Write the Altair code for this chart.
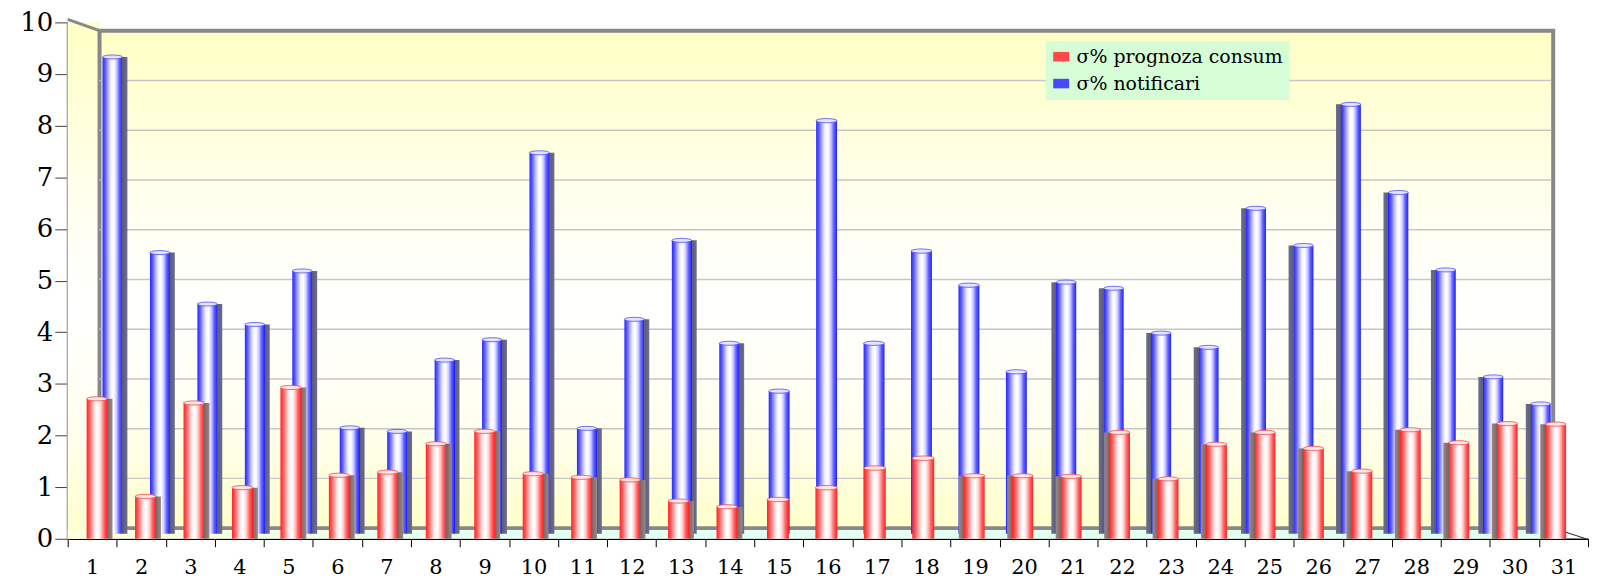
import altair as alt
import pandas as pd

# ---- data ----
days = [str(i) for i in range(1, 32)]
prognoza = [2.71, 0.82, 2.63, 0.99, 2.93, 1.23, 1.29, 1.84, 2.08, 1.26, 1.19, 1.14, 0.73, 0.62, 0.76, 0.99,
            1.37, 1.56, 1.22, 1.22, 1.21, 2.06, 1.16, 1.83, 2.06, 1.75, 1.31, 2.11, 1.86, 2.23, 2.22]
notificari = [9.36, 5.52, 4.51, 4.11, 5.16, 2.08, 2.01, 3.41, 3.81, 7.48, 2.07, 4.21, 5.76, 3.74, 2.80, 8.11,
              3.74, 5.55, 4.88, 3.18, 4.94, 4.82, 3.94, 3.66, 6.39, 5.66, 8.43, 6.70, 5.18, 3.08, 2.55]
series_names = ["σ% prognoza consum", "σ% notificari"]
y_ticks = list(range(0, 11))

df = pd.DataFrame({"day": days, "n": list(range(1, 32)), "prognoza": prognoza, "notificari": notificari})
one = pd.DataFrame({"a": [0]})

W, H = 1528, 519
FONT = "DejaVu Serif"
ELLIPSE = "M-1,0A1,0.2,0,1,0,1,0A1,0.2,0,1,0,-1,0Z"

# 3D frame geometry (view pixels)
WALL_L, WALL_R, WALL_T, WALL_B = 32, 1493, 8.3, 508.3


def grad(stops, vertical=False):
    return {"gradient": "linear", "x1": 0, "y1": 0,
            "x2": 0 if vertical else 1, "y2": 1 if vertical else 0,
            "stops": [{"offset": round(o, 4), "color": c} for o, c in stops]}


red_face = [(0, "#ff2424"), (0.14, "#ff5a5a"), (0.28, "#ffa8a8"), (0.42, "#fff0f0"), (0.56, "#ffffff"),
            (0.7, "#ffcccc"), (0.84, "#ff6868"), (1, "#ff2020")]
blue_face = [(0, "#2626ff"), (0.14, "#5e5eff"), (0.28, "#b0b0ff"), (0.42, "#f2f2ff"), (0.56, "#ffffff"),
             (0.7, "#ccccff"), (0.84, "#6464ff"), (1, "#2020ff")]


def bar_fill(face, side_dark, side_light, side):
    if side == "R":
        stops = [(o * 0.8, c) for o, c in face] + [(0.8, side_dark), (1, side_light)]
    elif side == "L":
        stops = [(0, side_light), (0.2, side_dark)] + [(0.2 + o * 0.8, c) for o, c in face]
    else:
        stops = face
    return grad(stops)


wall_grad = grad([(0, "#ffffc4"), (0.35, "#fffff0"), (0.55, "#ffffff"), (0.78, "#fffff0"), (1, "#ffffcc")],
                 vertical=True)

# ---- frame (3D walls) ----
side_wall = alt.Chart(one).mark_rect(fill=wall_grad).encode(
    x=alt.value(0), x2=alt.value(WALL_L), y=alt.value(0), y2=alt.value(H))
back_wall = alt.Chart(one).mark_rect(fill=wall_grad, stroke="#888888", strokeWidth=4).encode(
    x=alt.value(WALL_L), x2=alt.value(WALL_R), y=alt.value(WALL_T), y2=alt.value(WALL_B))
floor = alt.Chart(one).mark_rect(fill=grad([(0, "#ffffdc"), (0.3, "#e4fff4"), (1, "#e0fff0")])).encode(
    x=alt.value(0), x2=alt.value(WALL_R + 10), y=alt.value(WALL_B + 2), y2=alt.value(H))
top_slant = alt.Chart(one).mark_rule(color="#888888", strokeWidth=3).encode(
    x=alt.value(0), x2=alt.value(WALL_L), y=alt.value(-3), y2=alt.value(WALL_T))
floor_slant = alt.Chart(one).mark_rule(color="#222222", strokeWidth=1).encode(
    x=alt.value(WALL_R), x2=alt.value(W - 2), y=alt.value(WALL_B), y2=alt.value(H))

grid = alt.Chart(pd.DataFrame({"v": y_ticks[1:-1]})).mark_rule(color="#c6c6c6", strokeWidth=1.5).encode(
    y=alt.Y("v:Q", scale=alt.Scale(domain=[0, 10], range=[WALL_B, WALL_T]), axis=None),
    x=alt.value(WALL_L), x2=alt.value(WALL_R - 2))

# ---- axes (front plane) ----
axis_layer = alt.Chart(df).mark_bar(opacity=0).encode(
    x=alt.X("day:N", scale=alt.Scale(domain=days, paddingInner=0, paddingOuter=0),
            axis=alt.Axis(title=None, labelAngle=0, labelFont=FONT, labelFontSize=21, labelColor="black",
                          tickBand="extent", tickSize=8, tickColor="black", domainColor="black",
                          domainWidth=1.5, labelPadding=10, grid=False)),
    y=alt.Y("prognoza:Q", scale=alt.Scale(domain=[0, 10]),
            axis=alt.Axis(title=None, values=y_ticks, labelFont=FONT, labelFontSize=26, labelColor="black",
                          tickSize=13, tickColor="#404040", domainColor="#8c8c8c", domainWidth=3,
                          labelPadding=2, grid=False)),
)


def bar_group(x_enc, y_enc, face, sd, sl, filt, side, width, cap_fill, cap_stroke):
    off = {"R": -width * 0.1, "L": width * 0.1, "N": 0}[side]
    face_w = width * 0.8 if side != "N" else width
    base = alt.Chart(df).transform_filter(filt)
    bar = base.mark_bar(width=width, fill=bar_fill(face, sd, sl, side)).encode(x=x_enc, y=y_enc)
    cap = base.mark_point(shape=ELLIPSE, size=face_w * face_w, filled=True, fill=cap_fill, stroke=cap_stroke,
                          strokeWidth=0.8, opacity=1, xOffset=off).encode(x=x_enc, y=y_enc)
    return alt.layer(bar, cap)


# ---- blue bars (back row) ----
blue_x = alt.X("day:N", scale=alt.Scale(domain=days, range=[23.66, 1501.8], paddingInner=0, paddingOuter=0),
               axis=None)
blue_y = alt.Y("notificari:Q", scale=alt.Scale(domain=[0, 10], range=[514, 2]), axis=None)
blue_groups = [("R", "datum.n <= 14", 25), ("N", "datum.n >= 15 && datum.n <= 20", 21), ("L", "datum.n >= 21", 25)]
blue_layer = alt.layer(*[
    bar_group(blue_x, blue_y, blue_face, "#5a5a7a", "#6e6e8c", f, s, w, "#e4e4ff", "#4a4af0")
    for s, f, w in blue_groups
])

# ---- red bars (front row) ----
red_x = alt.X("day:N", scale=alt.Scale(domain=days, range=[7.65, 1517.35], paddingInner=0, paddingOuter=0),
              axis=None)
red_y = alt.Y("prognoza:Q", scale=alt.Scale(domain=[0, 10]), axis=None)
red_groups = [("R", "datum.n <= 14", 26), ("N", "datum.n >= 15 && datum.n <= 18", 22), ("L", "datum.n >= 19", 26)]
red_layer = alt.layer(*[
    bar_group(red_x, red_y, red_face, "#7e6464", "#9a8888", f, s, w, "#ffe4e4", "#e84a4a")
    for s, f, w in red_groups
])

# ---- legend ----
legend_layer = alt.Chart(pd.DataFrame({"series": series_names})).mark_square(opacity=0, size=1).encode(
    color=alt.Color("series:N", scale=alt.Scale(domain=series_names, range=["#ff4848", "#4848ff"]),
                    legend=alt.Legend(title=None, orient="none", legendX=983, legendY=19, direction="vertical",
                                      fillColor="#d6fdd6", padding=6, labelFont=FONT, labelFontSize=19,
                                      labelColor="black", labelLimit=400, symbolType="M-1,-0.6H1V0.6H-1Z",
                                      symbolSize=256, symbolOpacity=1, symbolStrokeWidth=0, rowPadding=7,
                                      labelOffset=6)))

chart = alt.layer(
    side_wall, back_wall, floor, top_slant, floor_slant, grid, axis_layer, blue_layer, red_layer, legend_layer
).resolve_scale(x="independent", y="independent").properties(
    width=W, height=H,
    autosize=alt.AutoSizeParams(type="none"),
    padding={"left": 60, "top": 13, "right": 2, "bottom": 44},
    background="white",
).configure_view(strokeWidth=0)

chart.save("out.html", embed_options={"renderer": "svg", "actions": False})
